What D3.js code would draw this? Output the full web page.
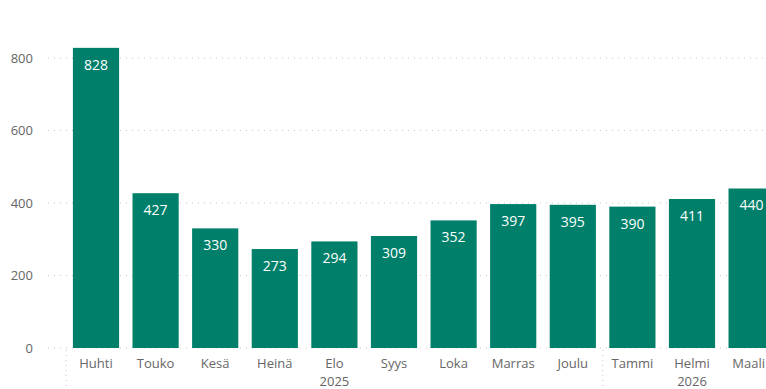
<!DOCTYPE html>
<html><head><meta charset="utf-8">
<script src="https://cdn.jsdelivr.net/npm/d3@7"></script>
<style>body{margin:0;background:#fff}svg{display:block;font-family:"Open Sans","Segoe UI",sans-serif}</style>
</head><body><svg id="c" width="766" height="389"></svg>
<script>
const months = ["Huhti","Touko","Kesä","Heinä","Elo","Syys","Loka","Marras","Joulu","Tammi","Helmi","Maali"];
const years = ["2025","2025","2025","2025","2025","2025","2025","2025","2025","2026","2026","2026"];
const values = [828,427,330,273,294,309,352,397,395,390,411,440];
const yTicks = [0,200,400,600,800];

const svg = d3.select("#c");
const W = 766;
const x = d3.scaleBand().domain(d3.range(months.length)).range([66.2, 66.2 + 59.6*12]).paddingInner(0.225).paddingOuter(0.1125);
const y = d3.scaleLinear().domain([0, 800]).range([348, 58]);

// gridlines
svg.append("g").selectAll("line").data(yTicks).join("line")
  .attr("x1", 48).attr("x2", W).attr("y1", d => y(d)).attr("y2", d => y(d))
  .attr("stroke", "#c8c8c8").attr("stroke-width", 1).attr("stroke-dasharray", "1,5");

// y axis labels
svg.append("g").selectAll("text").data(yTicks).join("text")
  .attr("x", 33).attr("y", d => y(d)).attr("dy", "0.35em").attr("text-anchor", "end")
  .attr("fill", "#666").attr("font-size", 13).text(d => d);

// bars
svg.append("g").selectAll("rect").data(values).join("rect")
  .attr("x", (d,i) => x(i)).attr("width", x.bandwidth())
  .attr("y", d => y(d)).attr("height", d => y(0) - y(d))
  .attr("fill", "#00806A");

// value labels
svg.append("g").selectAll("text").data(values).join("text")
  .attr("x", (d,i) => x(i) + x.bandwidth()/2).attr("y", d => y(d) + 17).attr("dy", "0.35em")
  .attr("text-anchor", "middle").attr("fill", "#fff").attr("font-size", 14).attr("font-weight", 500).text(d => d);

// month labels
svg.append("g").selectAll("text").data(months).join("text")
  .attr("x", (d,i) => x(i) + x.bandwidth()/2).attr("y", 363).attr("dy", "0.35em")
  .attr("text-anchor", "middle").attr("fill", "#666").attr("font-size", 13).text(d => d)
  .each(function(){
    const b = this.getBBox();
    if (b.x + b.width > W - 1) d3.select(this).attr("x", W - 1 - b.width/2);
  });

// year groups
const groups = d3.groups(d3.range(months.length), i => years[i]);
groups.forEach(([yr, idx]) => {
  const first = idx[0], last = idx[idx.length-1];
  const cx = (x(first) + x(last) + x.bandwidth())/2;
  svg.append("text").attr("x", cx).attr("y", 381).attr("dy", "0.35em")
    .attr("text-anchor", "middle").attr("fill", "#666").attr("font-size", 13).text(yr);
  const sx = x(first) - x.step()*x.paddingInner()/2;
  svg.append("line").attr("x1", sx).attr("x2", sx).attr("y1", 350).attr("y2", 389)
    .attr("stroke", "#c8c8c8").attr("stroke-dasharray", "1,4");
});
</script></body></html>
